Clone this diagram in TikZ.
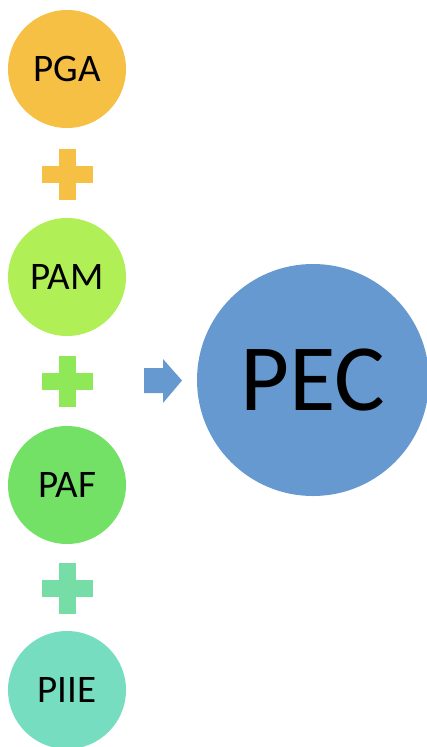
\documentclass[tikz,border=0pt]{standalone}
\usepackage{fontspec}
\setmainfont{Carlito}
\definecolor{cPGA}{HTML}{F5C043}
\definecolor{cPAM}{HTML}{B0EF55}
\definecolor{cPAF}{HTML}{73E066}
\definecolor{cPIIE}{HTML}{76DDC0}
\definecolor{cPEC}{HTML}{6699CF}
\definecolor{cPlusA}{HTML}{F5C043}
\definecolor{cPlusB}{HTML}{8FE858}
\definecolor{cPlusC}{HTML}{77DDA6}
\begin{document}
\begin{tikzpicture}[x=1pt,y=-1pt,
  disc/.style={circle,minimum size=118pt,inner sep=0pt,font=\fontsize{39}{39}\selectfont,text=black},
  plussign/.pic={\fill[#1] (-8.5,-25.5) rectangle (8.5,25.5); \fill[#1] (-25.5,-8.5) rectangle (25.5,8.5);}]
\useasboundingbox (0,0) rectangle (427,747);
\node[disc,fill=cPGA] (pga) at (67,69) {PGA};
\node[disc,fill=cPAM] (pam) at (67,277) {PAM};
\node[disc,fill=cPAF] (paf) at (67,485) {PAF};
\node[disc,fill=cPIIE] (piie) at (67,690) {PIIE};
\node[circle,minimum size=232pt,inner sep=0pt,fill=cPEC,font=\fontsize{95}{95}\selectfont,text=black] (pec) at (313,380) {PEC};
\pic at (67.5,174) {plussign=cPlusA};
\pic at (67.5,381) {plussign=cPlusB};
\pic at (67.5,588) {plussign=cPlusC};
\fill[cPEC] (144,368) -- (163,368) -- (163,359) -- (182,380.5) -- (163,403) -- (163,393) -- (144,393) -- cycle;
\end{tikzpicture}
\end{document}
